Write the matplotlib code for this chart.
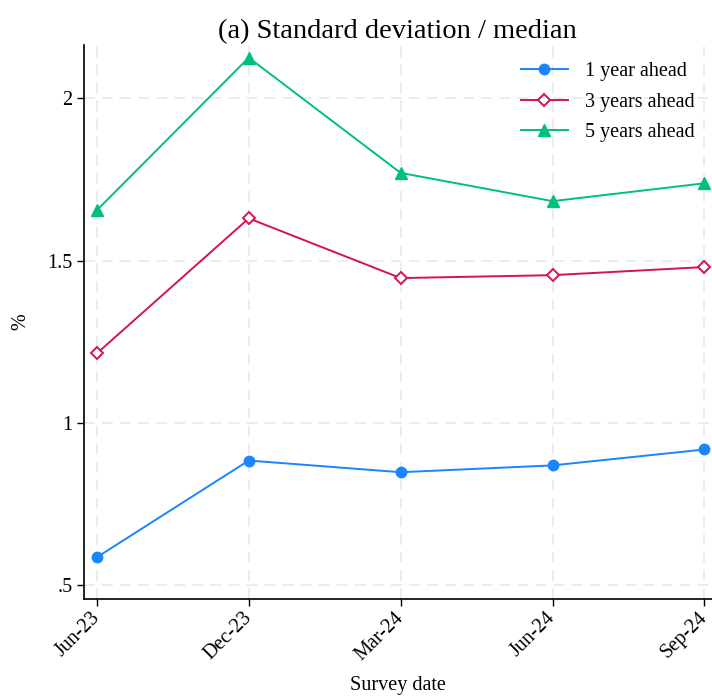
import matplotlib
matplotlib.use('Agg')
import matplotlib.pyplot as plt
import numpy as np

dates = ['Jun-23', 'Dec-23', 'Mar-24', 'Jun-24', 'Sep-24']
one_year = [0.586, 0.884, 0.848, 0.869, 0.918]
three_years = [1.214, 1.630, 1.446, 1.455, 1.480]
five_years = [1.655, 2.125, 1.770, 1.683, 1.738]

plt.rcParams['font.family'] = ['Liberation Serif', 'DejaVu Serif']

fig = plt.figure(figsize=(7.12, 6.97), dpi=100)
ax = fig.add_axes([83.5/712, 1-598.5/697, (712-83.5)/712, (598.5-45)/697])

x = np.arange(len(dates))
ax.plot(x, one_year, color='#1a85ff', lw=1.4, marker='o', ms=7.5, label='1 year ahead')
ax.plot(x, three_years, color='#d41159', lw=1.4, marker='D', ms=6.5, mfc='white', mew=1.4, label='3 years ahead')
ax.plot(x, five_years, color='#00bf7f', lw=1.4, marker='^', ms=8.5, label='5 years ahead')

ax.set_xlim(-0.088, 4.05)
ax.set_ylim(0.459, 2.164)
ax.set_xticks(x)
ax.set_xticklabels(dates, rotation=45, ha='right', va='center', rotation_mode='anchor')
ax.set_yticks([0.5, 1, 1.5, 2])
ax.set_yticklabels(['.5', '1', '1.5', '2'])
ax.tick_params(labelsize=14.5, length=5, width=1, direction='out', pad=3)
ax.tick_params(axis='x', pad=7)

ax.grid(True, color='#ebebeb', ls=(0, (6, 4)), lw=1.3)
ax.set_axisbelow(True)
for s in ['top', 'right']:
    ax.spines[s].set_visible(False)
for s in ['left', 'bottom']:
    ax.spines[s].set_linewidth(1.2)

ax.set_xlabel('Survey date', fontsize=14.5, labelpad=8)
ax.set_ylabel('%', fontsize=14.5, labelpad=12)
ax.set_title('(a) Standard deviation / median', fontsize=20.5, pad=5)

ax.legend(loc='upper right', frameon=False, fontsize=14.5, handlelength=2.35,
          handletextpad=0.85, borderaxespad=0.45, labelspacing=0.57)

fig.savefig('out.png', dpi=100)
